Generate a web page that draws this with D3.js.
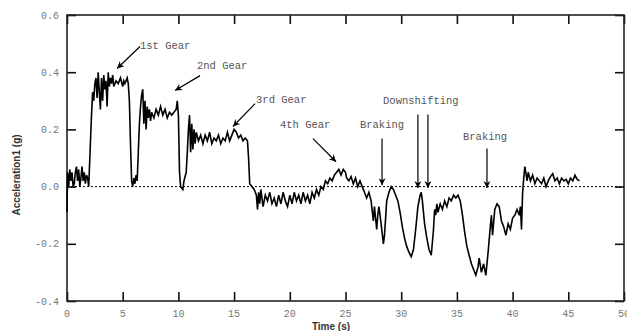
<!DOCTYPE html>
<html>
<head>
<meta charset="utf-8">
<script src="https://cdnjs.cloudflare.com/ajax/libs/d3/7.8.5/d3.min.js"></script>
<style>
  body { margin: 0; background: #fff; }
  .tick-label { font-family: "Liberation Mono", "DejaVu Sans Mono", monospace; font-size: 10px; fill: #777; }
  .note { font-family: "Liberation Mono", "DejaVu Sans Mono", monospace; font-size: 10.5px; fill: #555; }
  .axis-title { font-family: "Liberation Sans", Arial, sans-serif; font-size: 10px; font-weight: bold; fill: #333; }
</style>
</head>
<body>
<script>
// Data
var time = [0.00, 0.05, 0.15, 0.25, 0.35, 0.45, 0.55, 0.65, 0.75, 0.85, 0.95, 1.05, 1.15, 1.25, 1.35, 1.45, 1.55, 1.65, 1.75, 1.85, 1.95,
  2.0, 2.1, 2.2, 2.3, 2.4, 2.5, 2.6, 2.7, 2.8, 2.9, 3.0, 3.1, 3.2, 3.3, 3.4, 3.5, 3.6, 3.7, 3.8, 3.9, 4.0, 4.1, 4.2, 4.4, 4.6, 4.8, 5.0, 5.1, 5.2, 5.4, 5.5, 5.6, 5.7, 5.8, 5.9,
  6.0, 6.1, 6.2, 6.3, 6.4, 6.5, 6.6, 6.7, 6.8, 6.9, 7.0, 7.1, 7.2, 7.3, 7.4, 7.5, 7.6, 7.8, 8.0, 8.2, 8.4, 8.6, 8.8, 9.0, 9.2, 9.4, 9.6, 9.8, 9.9,
  10.0, 10.1, 10.2, 10.4, 10.5, 10.7, 10.8, 10.9, 11.0, 11.1, 11.2, 11.3, 11.4, 11.5, 11.6, 11.8, 12.0, 12.2, 12.4, 12.6, 12.8, 13.0, 13.2, 13.4, 13.6, 13.8,
  14.0, 14.2, 14.4, 14.6, 14.8, 15.0, 15.2, 15.4, 15.6, 15.8, 16.0, 16.2, 16.3, 16.4, 16.6, 16.8, 17.0, 17.1, 17.2, 17.3, 17.4, 17.6, 17.8,
  18.0, 18.2, 18.4, 18.6, 18.8, 19.0, 19.2, 19.4, 19.6, 19.8, 20.0, 20.2, 20.4, 20.6, 20.8, 21.0, 21.2, 21.4, 21.6, 21.8,
  22.0, 22.2, 22.4, 22.6, 22.8, 23.0, 23.2, 23.4, 23.6, 23.8, 24.0, 24.2, 24.4, 24.6, 24.8, 25.0, 25.1, 25.3, 25.5, 25.7, 25.9,
  26.1, 26.3, 26.5, 26.7, 26.9, 27.1, 27.3, 27.5, 27.6, 27.8, 27.9, 28.0, 28.2, 28.4, 28.5, 28.7, 28.9, 29.1, 29.3, 29.5, 29.7, 29.9,
  30.1, 30.3, 30.5, 30.7, 30.9, 31.1, 31.3, 31.5, 31.7, 31.8, 31.9, 32.1, 32.3, 32.5, 32.7, 32.9, 33.0, 33.1, 33.2, 33.3, 33.5, 33.7, 33.9,
  34.1, 34.3, 34.5, 34.7, 34.9, 35.1, 35.3, 35.5, 35.7, 35.9, 36.1, 36.3, 36.5, 36.7, 36.9, 37.0, 37.2, 37.4, 37.6, 37.8,
  38.0, 38.1, 38.2, 38.4, 38.6, 38.8, 39.0, 39.2, 39.4, 39.6, 39.8, 40.0, 40.2, 40.4, 40.6, 40.7, 40.8, 40.9, 41.0, 41.1, 41.3, 41.4, 41.6, 41.8,
  42.0, 42.2, 42.4, 42.6, 42.8, 43.0, 43.2, 43.4, 43.6, 43.8, 44.0, 44.2, 44.4, 44.6, 44.8, 45.0, 45.2, 45.4, 45.6, 45.8, 46.0];

var accel = [-0.09, 0.05, 0.00, 0.06, 0.02, 0.05, 0.00, 0.01, 0.05, 0.07, 0.02, 0.06, 0.00, 0.03, 0.07, 0.02, 0.05, 0.01, 0.04, 0.03, 0.00,
  0.05, 0.15, 0.25, 0.33, 0.30, 0.36, 0.38, 0.31, 0.40, 0.33, 0.27, 0.38, 0.30, 0.39, 0.34, 0.37, 0.28, 0.40, 0.35, 0.38, 0.36, 0.39, 0.35, 0.37, 0.36, 0.38, 0.35, 0.37, 0.36, 0.38, 0.36, 0.30, 0.15, 0.02, 0.00,
  0.03, 0.01, 0.04, 0.02, 0.12, 0.22, 0.28, 0.32, 0.34, 0.22, 0.30, 0.20, 0.28, 0.24, 0.27, 0.23, 0.26, 0.24, 0.27, 0.25, 0.28, 0.25, 0.27, 0.24, 0.26, 0.25, 0.26, 0.27, 0.30,
  0.25, 0.05, 0.00, -0.01, 0.02, 0.05, 0.12, 0.20, 0.25, 0.12, 0.22, 0.13, 0.20, 0.15, 0.19, 0.16, 0.18, 0.15, 0.18, 0.16, 0.19, 0.15, 0.17, 0.16, 0.18, 0.15,
  0.17, 0.16, 0.19, 0.16, 0.18, 0.20, 0.19, 0.17, 0.18, 0.16, 0.17, 0.16, 0.10, 0.01, 0.00, -0.01, -0.03, -0.08, -0.02, -0.06, -0.01, -0.07, -0.03,
  -0.05, -0.02, -0.06, -0.04, -0.07, -0.03, -0.06, -0.02, -0.05, -0.07, -0.03, -0.06, -0.02, -0.05, -0.03, -0.06, -0.02, -0.05, -0.03, -0.06,
  -0.02, -0.04, -0.01, -0.03, 0.00, -0.01, 0.02, 0.01, 0.03, 0.02, 0.04, 0.05, 0.06, 0.04, 0.06, 0.05, 0.03, 0.02, 0.035, 0.01, 0.03,
  0.00, 0.02, 0.00, -0.02, -0.04, -0.02, -0.05, -0.12, -0.07, -0.15, -0.10, -0.07, -0.13, -0.20, -0.17, -0.05, -0.02, 0.00, -0.01, -0.03, -0.05, -0.09,
  -0.14, -0.18, -0.21, -0.23, -0.245, -0.22, -0.15, -0.07, -0.03, -0.02, -0.05, -0.13, -0.18, -0.22, -0.24, -0.15, -0.08, -0.10, -0.06, -0.09, -0.06, -0.08, -0.05,
  -0.07, -0.04, -0.05, -0.03, -0.04, -0.03, -0.05, -0.10, -0.16, -0.21, -0.24, -0.27, -0.29, -0.31, -0.28, -0.25, -0.30, -0.27, -0.31, -0.23,
  -0.14, -0.10, -0.17, -0.08, -0.06, -0.07, -0.12, -0.14, -0.17, -0.13, -0.15, -0.11, -0.10, -0.08, -0.10, -0.07, -0.15, -0.02, 0.03, 0.07, 0.02, 0.05, 0.02, 0.04,
  0.01, 0.03, 0.02, 0.01, 0.03, 0.00, 0.02, 0.035, 0.045, 0.02, 0.03, 0.01, 0.03, 0.02, 0.025, 0.01, 0.03, 0.02, 0.04, 0.025, 0.02];

var xTicks = [0, 5, 10, 15, 20, 25, 30, 35, 40, 45, 50];
var yTicks = [-0.4, -0.2, 0.0, 0.2, 0.4, 0.6];

// annotation labels and arrows, in data units
var noteText = ["1st Gear", "2nd Gear", "3rd Gear", "4th Gear", "Braking", "Downshifting", "Braking"];
var noteAt = [[6.55, 0.48], [11.67, 0.41], [16.97, 0.294], [19.12, 0.206], [26.3, 0.206], [28.37, 0.29], [35.55, 0.164]];
var arrows = [
  [[6.55, 0.49], [4.5, 0.413]],
  [[11.94, 0.388], [9.7, 0.336]],
  [[16.88, 0.29], [14.9, 0.21]],
  [[22.08, 0.168], [24.15, 0.087]],
  [[28.28, 0.168], [28.28, 0.005]],
  [[31.5, 0.252], [31.5, -0.005]],
  [[32.4, 0.252], [32.4, -0.005]],
  [[37.7, 0.133], [37.7, -0.005]]
];

var svgWidth = 627;
var svgHeight = 331;
var margin = { top: 15, right: 3, bottom: 30, left: 67 };
var chartWidth = svgWidth - margin.left - margin.right;
var chartHeight = svgHeight - margin.top - margin.bottom;

var svg = d3.select("body")
  .append("svg")
  .attr("width", svgWidth)
  .attr("height", svgHeight);

svg.append("defs").append("marker")
  .attr("id", "head")
  .attr("viewBox", "0 0 10 10")
  .attr("refX", 10)
  .attr("refY", 5)
  .attr("markerWidth", 11)
  .attr("markerHeight", 7)
  .attr("markerUnits", "userSpaceOnUse")
  .attr("orient", "auto")
  .append("path")
  .attr("d", "M0,0 L10,5 L0,10 L3,5 Z")
  .attr("fill", "#000");

var chartGroup = svg.append("g")
  .attr("transform", `translate(${margin.left}, ${margin.top})`);

var xScale = d3.scaleLinear().domain([0, 50]).range([0, chartWidth]);
var yScale = d3.scaleLinear().domain([-0.4, 0.6]).range([chartHeight, 0]);

// inward ticks on all four sides
var tickLen = 9;
chartGroup.append("g")
  .attr("transform", "translate(0," + chartHeight + ")")
  .call(d3.axisTop(xScale).tickValues(xTicks).tickSize(tickLen).tickFormat(""));
chartGroup.append("g")
  .call(d3.axisBottom(xScale).tickValues(xTicks).tickSize(tickLen).tickFormat(""));
chartGroup.append("g")
  .call(d3.axisRight(yScale).tickValues(yTicks).tickSize(tickLen).tickFormat(""));
chartGroup.append("g")
  .attr("transform", "translate(" + chartWidth + ",0)")
  .call(d3.axisLeft(yScale).tickValues(yTicks).tickSize(tickLen).tickFormat(""));
chartGroup.selectAll(".domain").remove();
chartGroup.selectAll(".tick line").attr("stroke", "#111").attr("stroke-width", 1.6);

// frame
chartGroup.append("rect")
  .attr("width", chartWidth)
  .attr("height", chartHeight)
  .attr("fill", "none")
  .attr("stroke", "#222")
  .attr("stroke-width", 1.6);

// tick labels
chartGroup.selectAll(".xlab")
  .data(xTicks)
  .enter()
  .append("text")
  .attr("class", "tick-label")
  .attr("x", d => xScale(d))
  .attr("y", chartHeight + 16)
  .attr("text-anchor", "middle")
  .text(d => d);

chartGroup.selectAll(".ylab")
  .data(yTicks)
  .enter()
  .append("text")
  .attr("class", "tick-label")
  .attr("x", -8)
  .attr("y", d => yScale(d) + 3.5)
  .attr("text-anchor", "end")
  .text(d => d3.format(".1f")(d).replace("\u2212", "-"));

// zero line
chartGroup.append("line")
  .attr("x1", 0)
  .attr("x2", chartWidth)
  .attr("y1", yScale(0))
  .attr("y2", yScale(0))
  .attr("stroke", "#000")
  .attr("stroke-width", 1)
  .attr("stroke-dasharray", "2,2");

// signal
var line = d3.line()
  .x((d, i) => xScale(time[i]))
  .y(d => yScale(d));

chartGroup.append("path")
  .datum(accel)
  .attr("d", line)
  .attr("fill", "none")
  .attr("stroke", "#000")
  .attr("stroke-width", 1.6)
  .attr("stroke-linejoin", "miter");

// arrows
chartGroup.selectAll(".arrow")
  .data(arrows)
  .enter()
  .append("line")
  .attr("x1", d => xScale(d[0][0]))
  .attr("y1", d => yScale(d[0][1]))
  .attr("x2", d => xScale(d[1][0]))
  .attr("y2", d => yScale(d[1][1]))
  .attr("stroke", "#000")
  .attr("stroke-width", 1.2)
  .attr("marker-end", "url(#head)");

// notes
chartGroup.selectAll(".note")
  .data(noteText)
  .enter()
  .append("text")
  .attr("class", "note")
  .attr("x", (d, i) => xScale(noteAt[i][0]))
  .attr("y", (d, i) => yScale(noteAt[i][1]))
  .text(d => d);

// axis titles
svg.append("text")
  .attr("class", "axis-title")
  .attr("x", 331)
  .attr("y", 330)
  .attr("text-anchor", "middle")
  .text("Time (s)");

svg.append("text")
  .attr("class", "axis-title")
  .attr("transform", "translate(20,175) rotate(-90)")
  .attr("text-anchor", "middle")
  .text("Acceleration1 (g)");
</script>
</body>
</html>
